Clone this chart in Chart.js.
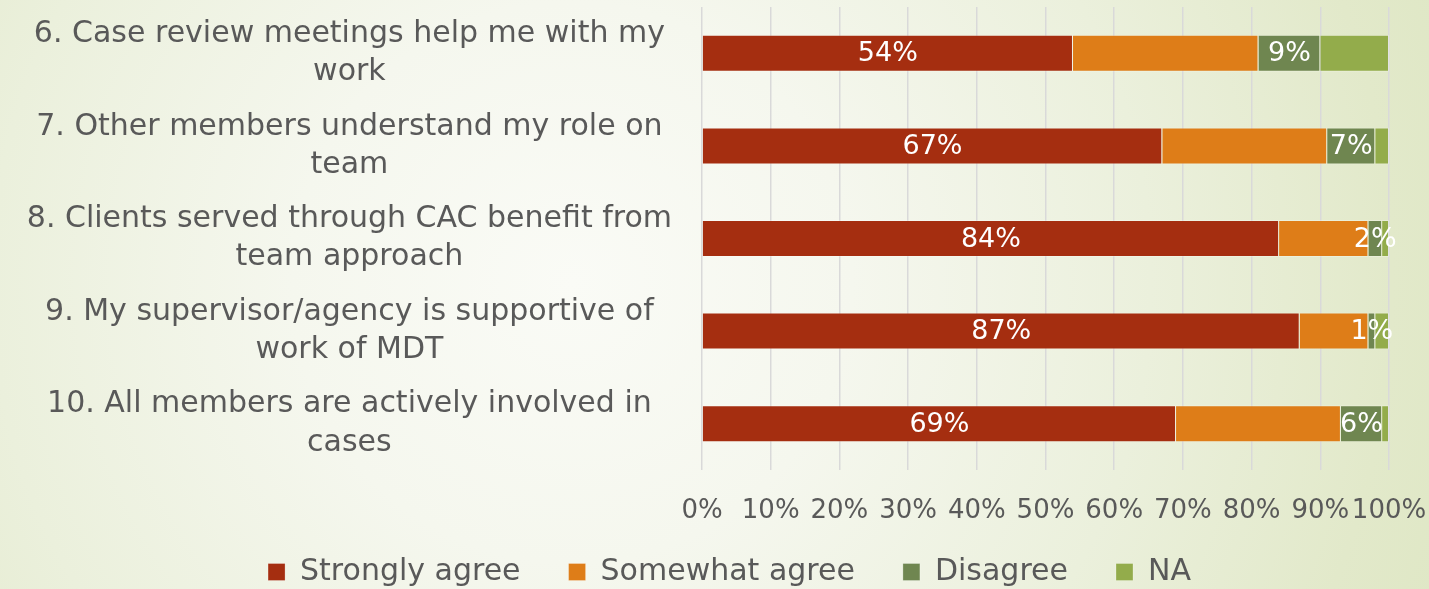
<!DOCTYPE html>
<html>
<head>
<meta charset="utf-8">
<title>MDT survey responses</title>
<script src="https://cdn.jsdelivr.net/npm/chart.js@4"></script>
<style>
  html, body { margin: 0; padding: 0; overflow: hidden; }
  body {
    width: 1429px;
    height: 589px;
    background: radial-gradient(circle at 40% 48%, #fafbf6 0px, #f5f7ee 280px, #ebf0dc 580px, #e2e9ca 820px, #dde6c2 1000px);
  }
  /* canvas runs past the bottom edge so the legend's bottom gap is cut off */
  #wrap { position: relative; width: 1429px; height: 618px; }
</style>
</head>
<body>
<div id="wrap"><canvas id="surveyChart"></canvas></div>
<script>
const questions = [
  ["6. Case review meetings help me with my", "work"],
  ["7. Other members understand my role on", "team"],
  ["8. Clients served through CAC benefit from", "team approach"],
  ["9. My supervisor/agency is supportive of", "work of MDT"],
  ["10. All members are actively involved in", "cases"]
];

const stronglyAgree = [54, 67, 84, 87, 69];
const somewhatAgree = [27, 24, 13, 10, 24];
const disagree = [9, 7, 2, 1, 6];
const notApplicable = [10, 2, 1, 2, 1];

const seriesNames = ["Strongly agree", "Somewhat agree", "Disagree", "NA"];
const seriesColors = ["#a52e10", "#de7d18", "#6f8650", "#93ac4b"];
const percentTicks = [0, 10, 20, 30, 40, 50, 60, 70, 80, 90, 100];

const textGray = "#595959";
Chart.defaults.font.family = "'DejaVu Sans', sans-serif";
Chart.defaults.color = textGray;

// white % labels in the middle of the segments that have showValues set
const segmentLabels = {
  id: "segmentLabels",
  afterDatasetsDraw(chart) {
    const ctx = chart.ctx;
    ctx.save();
    ctx.font = "27px 'DejaVu Sans', sans-serif";
    ctx.fillStyle = "#ffffff";
    ctx.textAlign = "center";
    ctx.textBaseline = "middle";
    chart.data.datasets.forEach((ds, i) => {
      if (!ds.showValues) return;
      chart.getDatasetMeta(i).data.forEach((bar, j) => {
        const pt = bar.getCenterPoint();
        ctx.fillText(ds.data[j] + "%", pt.x, pt.y + 1);
      });
    });
    ctx.restore();
  }
};

// the legend uses one padding value for both directions; keep the wide
// gaps between items but pull the row up closer to the axis labels,
// and centre it a bit further right, under the plot
const legendNudge = {
  id: "legendNudge",
  afterLayout(chart) {
    const lg = chart.legend;
    lg.top -= 21;
    lg.bottom -= 21;
    lg.left += 35;
    lg.right += 35;
  }
};

const values = [stronglyAgree, somewhatAgree, disagree, notApplicable];
const datasets = values.map((data, i) => ({
  label: seriesNames[i],
  data: data,
  backgroundColor: seriesColors[i],
  borderColor: "rgba(255,255,255,0.25)",
  borderWidth: 1,
  showValues: i === 0 || i === 2
}));

const ctx = document.getElementById("surveyChart").getContext("2d");
new Chart(ctx, {
  type: "bar",
  data: { labels: questions, datasets: datasets },
  options: {
    indexAxis: "y",
    responsive: true,
    maintainAspectRatio: false,
    animation: false,
    layout: { padding: { top: 7, left: 0, right: 40, bottom: 0 } },
    datasets: { bar: { barPercentage: 0.4, categoryPercentage: 1 } },
    scales: {
      x: {
        stacked: true,
        min: 0,
        max: 100,
        grid: { color: "#d9d9d9", lineWidth: 1.5, drawTicks: false },
        border: { display: false },
        afterBuildTicks: (scale) => {
          scale.ticks = percentTicks.map((v) => ({ value: v }));
        },
        afterFit: (scale) => {
          // end labels may hang past the plot edges
          scale.height = 60;
          scale.paddingLeft = 0;
          scale.paddingRight = 0;
        },
        ticks: {
          autoSkip: false,
          maxRotation: 0,
          padding: 26,
          font: { size: 26 },
          callback: (v) => v + "%"
        }
      },
      y: {
        stacked: true,
        grid: { display: false, drawTicks: false },
        border: { display: false },
        afterFit: (scale) => {
          scale.width = 702;
          scale.paddingTop = 0;
          scale.paddingBottom = 0;
        },
        ticks: {
          crossAlign: "center",
          padding: 30,
          font: { size: 30, lineHeight: 1.27 }
        }
      }
    },
    plugins: {
      legend: {
        position: "bottom",
        labels: {
          boxWidth: 17,
          boxHeight: 17,
          padding: 48,
          color: textGray,
          font: { size: 30 }
        }
      },
      tooltip: { enabled: false }
    }
  },
  plugins: [segmentLabels, legendNudge]
});
</script>
</body>
</html>
